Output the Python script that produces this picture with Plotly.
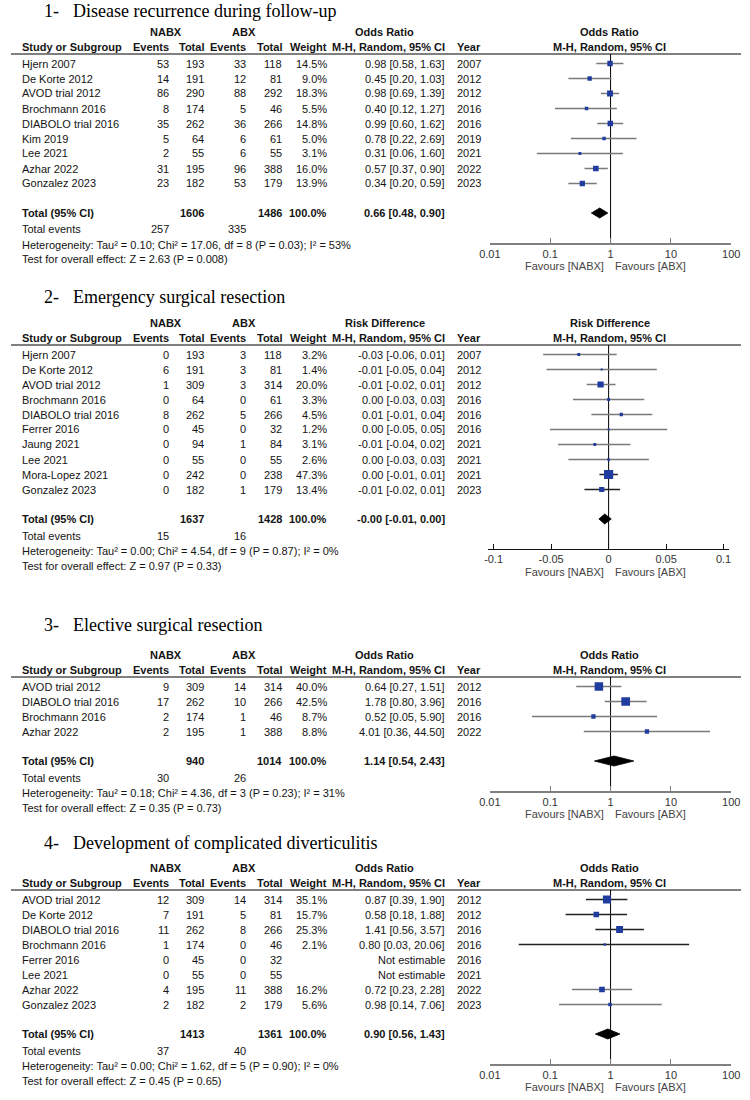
import plotly.graph_objects as go
import math

# ---------------- DATA ----------------
# Panel 1: Disease recurrence during follow-up (Odds Ratio)
title1 = "Disease recurrence during follow-up"
studies1 = ["Hjern 2007", "De Korte 2012", "AVOD trial 2012", "Brochmann 2016", "DIABOLO trial 2016",
            "Kim 2019", "Lee 2021", "Azhar 2022", "Gonzalez 2023"]
nabx_ev1 = [53, 14, 86, 8, 35, 5, 2, 31, 23]
nabx_tot1 = [193, 191, 290, 174, 262, 64, 55, 195, 182]
abx_ev1 = [33, 12, 88, 5, 36, 6, 6, 96, 53]
abx_tot1 = [118, 81, 292, 46, 266, 61, 55, 388, 179]
weight1 = [14.5, 9.0, 18.3, 5.5, 14.8, 5.0, 3.1, 16.0, 13.9]
est1 = [0.98, 0.45, 0.98, 0.40, 0.99, 0.78, 0.31, 0.57, 0.34]
lo1 = [0.58, 0.20, 0.69, 0.12, 0.60, 0.22, 0.06, 0.37, 0.20]
hi1 = [1.63, 1.03, 1.39, 1.27, 1.62, 2.69, 1.60, 0.90, 0.59]
year1 = [2007, 2012, 2012, 2016, 2016, 2019, 2021, 2022, 2023]
tot1 = dict(nabx=1606, abx=1486, est=0.66, lo=0.48, hi=0.90, ev_nabx=257, ev_abx=335,
            het="Heterogeneity: Tau² = 0.10; Chi² = 17.06, df = 8 (P = 0.03); I² = 53%",
            test="Test for overall effect: Z = 2.63 (P = 0.008)")

# Panel 2: Emergency surgical resection (Risk Difference)
title2 = "Emergency surgical resection"
studies2 = ["Hjern 2007", "De Korte 2012", "AVOD trial 2012", "Brochmann 2016", "DIABOLO trial 2016",
            "Ferrer 2016", "Jaung 2021", "Lee 2021", "Mora-Lopez 2021", "Gonzalez 2023"]
nabx_ev2 = [0, 6, 1, 0, 8, 0, 0, 0, 0, 0]
nabx_tot2 = [193, 191, 309, 64, 262, 45, 94, 55, 242, 182]
abx_ev2 = [3, 3, 3, 0, 5, 0, 1, 0, 0, 1]
abx_tot2 = [118, 81, 314, 61, 266, 32, 84, 55, 238, 179]
weight2 = [3.2, 1.4, 20.0, 3.3, 4.5, 1.2, 3.1, 2.6, 47.3, 13.4]
ci_text2 = ["-0.03 [-0.06, 0.01]", "-0.01 [-0.05, 0.04]", "-0.01 [-0.02, 0.01]", "0.00 [-0.03, 0.03]",
            "0.01 [-0.01, 0.04]", "0.00 [-0.05, 0.05]", "-0.01 [-0.04, 0.02]", "0.00 [-0.03, 0.03]",
            "0.00 [-0.01, 0.01]", "-0.01 [-0.02, 0.01]"]
est2 = [-0.026, -0.006, -0.007, 0.000, 0.011, 0.000, -0.012, 0.000, 0.000, -0.006]
lo2 = [-0.057, -0.054, -0.019, -0.031, -0.015, -0.051, -0.044, -0.035, -0.008, -0.021]
hi2 = [0.007, 0.042, 0.006, 0.031, 0.038, 0.051, 0.019, 0.035, 0.008, 0.010]
year2 = [2007, 2012, 2012, 2016, 2016, 2016, 2021, 2021, 2021, 2023]
tot2 = dict(nabx=1637, abx=1428, est=-0.0034, lo=-0.0085, hi=0.0023, ci_text="-0.00 [-0.01, 0.00]",
            ev_nabx=15, ev_abx=16,
            het="Heterogeneity: Tau² = 0.00; Chi² = 4.54, df = 9 (P = 0.87); I² = 0%",
            test="Test for overall effect: Z = 0.97 (P = 0.33)")

# Panel 3: Elective surgical resection (Odds Ratio)
title3 = "Elective surgical resection"
studies3 = ["AVOD trial 2012", "DIABOLO trial 2016", "Brochmann 2016", "Azhar 2022"]
nabx_ev3 = [9, 17, 2, 2]
nabx_tot3 = [309, 262, 174, 195]
abx_ev3 = [14, 10, 1, 1]
abx_tot3 = [314, 266, 46, 388]
weight3 = [40.0, 42.5, 8.7, 8.8]
est3 = [0.64, 1.78, 0.52, 4.01]
lo3 = [0.27, 0.80, 0.05, 0.36]
hi3 = [1.51, 3.96, 5.90, 44.50]
year3 = [2012, 2016, 2016, 2022]
tot3 = dict(nabx=940, abx=1014, est=1.14, lo=0.54, hi=2.43, ev_nabx=30, ev_abx=26,
            het="Heterogeneity: Tau² = 0.18; Chi² = 4.36, df = 3 (P = 0.23); I² = 31%",
            test="Test for overall effect: Z = 0.35 (P = 0.73)")

# Panel 4: Development of complicated diverticulitis (Odds Ratio)
title4 = "Development of complicated diverticulitis"
studies4 = ["AVOD trial 2012", "De Korte 2012", "DIABOLO trial 2016", "Brochmann 2016", "Ferrer 2016",
            "Lee 2021", "Azhar 2022", "Gonzalez 2023"]
nabx_ev4 = [12, 7, 11, 1, 0, 0, 4, 2]
nabx_tot4 = [309, 191, 262, 174, 45, 55, 195, 182]
abx_ev4 = [14, 5, 8, 0, 0, 0, 11, 2]
abx_tot4 = [314, 81, 266, 46, 32, 55, 388, 179]
weight4 = [35.1, 15.7, 25.3, 2.1, None, None, 16.2, 5.6]
est4 = [0.87, 0.58, 1.41, 0.80, None, None, 0.72, 0.98]
lo4 = [0.39, 0.18, 0.56, 0.03, None, None, 0.23, 0.14]
hi4 = [1.90, 1.88, 3.57, 20.06, None, None, 2.28, 7.06]
year4 = [2012, 2012, 2016, 2016, 2016, 2021, 2022, 2023]
tot4 = dict(nabx=1413, abx=1361, est=0.90, lo=0.56, hi=1.43, ev_nabx=37, ev_abx=40,
            het="Heterogeneity: Tau² = 0.00; Chi² = 1.62, df = 5 (P = 0.90); I² = 0%",
            test="Test for overall effect: Z = 0.45 (P = 0.65)")

or_ticks = [0.01, 0.1, 1, 10, 100]
or_ticktext = ["0.01", "0.1", "1", "10", "100"]
rd_ticks = [-0.1, -0.05, 0, 0.05, 0.1]
rd_ticktext = ["-0.1", "-0.05", "0", "0.05", "0.1"]

# ---------------- STYLE / LAYOUT ----------------
W, H = 750, 1100
SANS = "Liberation Sans, Arial, sans-serif"
SERIF = "Liberation Serif, Times New Roman, serif"
TXT = "#141414"
GREY_TXT = "#444444"
BLUE = "#1f3c9e"
ROW = 15

# darker CI lines (style only)
dark_ci = {
    1: [False] * 9,
    2: [False, False, False, False, False, False, False, False, True, True],
    3: [False] * 4,
    4: [True, True, True, True, False, False, False, False],
}

panels = [
    dict(num="1-", title=title1, studies=studies1, ne=nabx_ev1, nt=nabx_tot1, ae=abx_ev1, at=abx_tot1,
         w=weight1, est=est1, lo=lo1, hi=hi1, year=year1, tot=tot1, kind="OR", line_y=54, title_y=11),
    dict(num="2-", title=title2, studies=studies2, ne=nabx_ev2, nt=nabx_tot2, ae=abx_ev2, at=abx_tot2,
         w=weight2, est=est2, lo=lo2, hi=hi2, year=year2, tot=tot2, kind="RD", ci_text=ci_text2,
         line_y=345, title_y=297),
    dict(num="3-", title=title3, studies=studies3, ne=nabx_ev3, nt=nabx_tot3, ae=abx_ev3, at=abx_tot3,
         w=weight3, est=est3, lo=lo3, hi=hi3, year=year3, tot=tot3, kind="OR", line_y=677, title_y=625),
    dict(num="4-", title=title4, studies=studies4, ne=nabx_ev4, nt=nabx_tot4, ae=abx_ev4, at=abx_tot4,
         w=weight4, est=est4, lo=lo4, hi=hi4, year=year4, tot=tot4, kind="OR", line_y=890, title_y=843),
]

# column x positions (px)
X_STUDY = 10
X_NE, X_NT, X_AE, X_AT, X_W, X_CI, X_YEAR = 163, 199, 242, 279, 326, 447, 457
X_NABX_HDR, X_ABX_HDR, X_EFF_HDR = 159, 239, 384
PLOT_CENTER = 615

fig = go.Figure()
annotations = []
shapes = []


def px_x(px):
    return px / W


def px_y(py):
    return 1 - py / H


def txt(x, y, s, anchor="left", bold=False, size=11, color=TXT, family=SANS):
    if bold:
        s = "<b>" + s + "</b>"
    annotations.append(dict(x=px_x(x), y=px_y(y), xref="paper", yref="paper", text=s, showarrow=False,
                            xanchor=anchor, yanchor="middle", font=dict(family=family, size=size, color=color),
                            borderpad=0))


def fmt_ci(e, l, h):
    if e is None:
        return "Not estimable"
    return f"{e:.2f} [{l:.2f}, {h:.2f}]"


for k, p in enumerate(panels, start=1):
    ly = p["line_y"]
    n = len(p["studies"])
    row_y = [ly + 9.5 + ROW * i for i in range(n)]
    total_y = row_y[-1] + 29.5
    axis_y = total_y + 29.5
    ev_y = total_y + 16.5
    het_y = ev_y + 15
    test_y = het_y + 15
    h1 = ly - 22
    h2 = ly - 7
    eff_name = "Odds Ratio" if p["kind"] == "OR" else "Risk Difference"

    # title
    txt(33, p["title_y"], p["num"], size=18, color="#000", family=SERIF)
    txt(63, p["title_y"], p["title"], size=18, color="#000", family=SERIF)

    # headers
    txt(X_NABX_HDR, h1, "NABX", "center", True)
    txt(X_ABX_HDR, h1, "ABX", "center", True)
    txt(X_EFF_HDR, h1, eff_name, "center", True)
    txt(X_STUDY, h2, "Study or Subgroup", "left", True)
    txt(X_NE, h2, "Events", "right", True)
    txt(X_NT, h2, "Total", "right", True)
    txt(X_AE, h2, "Events", "right", True)
    txt(X_AT, h2, "Total", "right", True)
    txt(X_W, h2, "Weight", "right", True)
    txt(X_CI, h2, "M-H, Random, 95% CI", "right", True)
    txt(X_YEAR, h2, "Year", "left", True)
    txt(PLOT_CENTER, h1, eff_name, "center", True)
    txt(PLOT_CENTER, h2, "M-H, Random, 95% CI", "center", True)

    shapes.append(dict(type="line", xref="paper", yref="paper", x0=0, x1=1, y0=px_y(ly), y1=px_y(ly),
                       line=dict(color="#000", width=1)))

    # rows
    for i in range(n):
        y = row_y[i]
        txt(X_STUDY, y, p["studies"][i])
        txt(X_NE, y, str(p["ne"][i]), "right")
        txt(X_NT, y, str(p["nt"][i]), "right")
        txt(X_AE, y, str(p["ae"][i]), "right")
        txt(X_AT, y, str(p["at"][i]), "right")
        if p["w"][i] is not None:
            txt(X_W, y, f"{p['w'][i]:.1f}%", "right")
        if p["kind"] == "RD":
            ci = p["ci_text"][i]
        else:
            ci = fmt_ci(p["est"][i], p["lo"][i], p["hi"][i])
        txt(X_CI, y, ci, "right")
        txt(X_YEAR, y, str(p["year"][i]), "left")

    t = p["tot"]
    txt(X_STUDY, total_y, "Total (95% CI)", "left", True)
    txt(X_NT, total_y, str(t["nabx"]), "right", True)
    txt(X_AT, total_y, str(t["abx"]), "right", True)
    txt(X_W, total_y, "100.0%", "right", True)
    tci = t["ci_text"] if "ci_text" in t else fmt_ci(t["est"], t["lo"], t["hi"])
    txt(X_CI, total_y, tci, "right", True)
    txt(X_STUDY, ev_y, "Total events")
    txt(X_NE, ev_y, str(t["ev_nabx"]), "right")
    txt(X_AE, ev_y, str(t["ev_abx"]), "right")
    txt(X_STUDY, het_y, t["het"])
    txt(X_STUDY, test_y, t["test"])

    # forest plot subplot
    xa = "x" if k == 1 else f"x{k}"
    ya = "y" if k == 1 else f"y{k}"
    dark = dark_ci[k]
    for is_dark in (False, True):
        xs, ys = [], []
        for i in range(n):
            if p["est"][i] is None or dark[i] != is_dark:
                continue
            xs += [p["lo"][i], p["hi"][i], None]
            ys += [row_y[i], row_y[i], None]
        if xs:
            fig.add_trace(go.Scatter(x=xs, y=ys, mode="lines", xaxis=xa, yaxis=ya, hoverinfo="skip",
                                     line=dict(color="#222222" if is_dark else "#7a7a7a",
                                               width=1.3 if is_dark else 1.6),
                                     showlegend=False))
    mx, my, ms = [], [], []
    for i in range(n):
        if p["est"][i] is None:
            continue
        mx.append(p["est"][i])
        my.append(row_y[i])
        ms.append(1.25 * math.sqrt(p["w"][i]) + 0.6)
    fig.add_trace(go.Scatter(x=mx, y=my, mode="markers", xaxis=xa, yaxis=ya, showlegend=False,
                             marker=dict(symbol="square", size=ms, color=BLUE, opacity=1,
                                         line=dict(width=0))))
    # diamond
    dh = 5
    fig.add_trace(go.Scatter(x=[t["lo"], t["est"], t["hi"], t["est"], t["lo"]],
                             y=[total_y, total_y - dh, total_y, total_y + dh, total_y],
                             mode="lines", fill="toself", fillcolor="#000", xaxis=xa, yaxis=ya,
                             line=dict(color="#000", width=0.8), showlegend=False))

    if p["kind"] == "OR":
        xdom = [492 / W, 740 / W]
        xcfg = dict(type="log", range=[-2, 2], tickvals=or_ticks, ticktext=or_ticktext,
                    linecolor="#808080", linewidth=2, tickcolor="#808080")
        null = 1
    else:
        xdom = [490 / W, 738 / W]
        xcfg = dict(type="linear", range=[-0.105, 0.105], tickvals=rd_ticks, ticktext=rd_ticktext,
                    linecolor="#111", linewidth=1, tickcolor="#111")
        null = 0
    xkey = "xaxis" if k == 1 else f"xaxis{k}"
    ykey = "yaxis" if k == 1 else f"yaxis{k}"
    fig.update_layout(**{
        xkey: dict(domain=xdom, anchor=ya, showline=True, ticks="inside", ticklen=5, tickwidth=1,
                   showgrid=False, zeroline=False, fixedrange=True,
                   tickfont=dict(family=SANS, size=11, color="#333"), **xcfg),
        ykey: dict(domain=[px_y(axis_y), px_y(ly)], range=[axis_y, ly], anchor=xa, visible=False,
                   showgrid=False, zeroline=False, fixedrange=True),
    })
    shapes.append(dict(type="line", xref=xa, yref=f"{ya} domain", x0=null, x1=null, y0=0, y1=1,
                       line=dict(color="#000", width=1), layer="below"))
    fav_y = axis_y + 23.5
    txt(610, fav_y, "Favours [NABX]", "right", color=GREY_TXT)
    txt(620, fav_y, "Favours [ABX]", "left", color=GREY_TXT)

fig.update_layout(width=W, height=H, margin=dict(l=0, r=0, t=0, b=0), paper_bgcolor="white",
                  plot_bgcolor="rgba(0,0,0,0)", annotations=annotations, shapes=shapes, showlegend=False)

fig.write_html("out.html", config={"displayModeBar": False},
               post_script="document.body.style.margin='0';")
